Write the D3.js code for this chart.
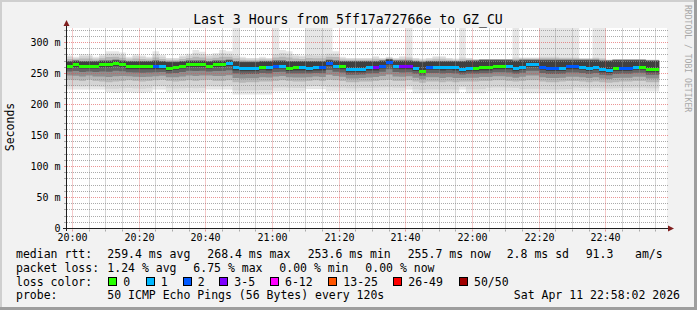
<!DOCTYPE html>
<html>
<head>
<meta charset="utf-8">
<script src="https://cdn.jsdelivr.net/npm/d3@7"></script>
<style>
body { margin: 0; background: #f2f2f2; }
svg { display: block; font-family: "DejaVu Sans Mono", monospace; }
</style>
</head>
<body>
<svg id="chart" width="697" height="310"></svg>
<script>
// first 2 minute slot and graph window
const FIRST_SLOT = new Date(2026, 3, 11, 19, 58, 0);
const STEP_SEC = 120;
const VIEW_START = new Date(2026, 3, 11, 19, 58, 12);
const VIEW_END = new Date(2026, 3, 11, 22, 58, 12);

// median rtt per slot (ms)
const median = [
  262, 264, 262, 262, 262, 264, 264, 266, 264, 261,
  261, 261, 261, 261, 261, 258, 260, 262, 264.5, 264.5,
  264.5, 262, 264.5, 264.5, 266, 259, 257.7, 257.7, 257.7, 260,
  259, 262, 262, 258, 259, 259, 257.7, 259, 259, 266,
  262, 261, 256, 256, 256, 259, 259, 262, 268, 262,
  261, 261, 258, 254, 260, 260, 259, 260, 259, 256,
  257.7, 257.7, 259, 259, 261, 261, 261, 257.7, 260, 264.6,
  264.6, 260, 258, 258, 258, 261, 261, 260, 258, 260,
  256, 255, 258, 258, 258, 260, 260, 256, 256
];

// lost pings (of 50) per slot
const lost = [
  0, 0, 0, 0, 0, 0, 0, 0, 0, 0,
  0, 0, 0, 2, 1, 0, 0, 0, 0, 0,
  0, 0, 0, 0, 1, 1, 1, 1, 1, 0,
  1, 2, 1, 0, 0, 1, 1, 1, 2, 2,
  1, 0, 1, 1, 1, 1, 3, 2, 2, 1,
  3, 3, 1, 0, 2, 1, 1, 1, 1, 1,
  1, 0, 0, 0, 0, 0, 1, 1, 1, 1,
  1, 2, 2, 2, 1, 2, 2, 1, 1, 1,
  1, 1, 0, 2, 2, 1, 0, 0, 0
];

// smoke: highest ping
const pMax = [
  279, 277, 281, 281, 277, 281, 286, 286, 284, 277,
  281, 279, 277, 286, 280, 275, 275, 279, 282, 288,
  285, 281, 283, 288, 286, 340, 277, 275, 275, 277,
  275, 340, 288, 286, 281, 279, 340, 340, 340, 340,
  286, 277, 275, 275, 275, 275, 278, 275, 277, 275,
  278, 340, 275, 274, 275, 278, 278, 275, 274, 340,
  275, 273, 273, 273, 273, 273, 273, 340, 276, 276,
  276, 340, 340, 340, 340, 340, 340, 275, 275, 340,
  340, 272, 272, 272, 272, 272, 272, 272, 272
];

// smoke: upper light edge
const pTop = [
  277, 275, 278, 278, 275, 278, 282, 282, 280, 275,
  278, 277, 275, 281, 277, 274, 274, 277, 279, 283,
  281, 278, 280, 283, 282, 279, 275, 274, 274, 275,
  274, 281, 283, 282, 278, 277, 280, 279, 279, 282,
  282, 275, 274, 274, 274, 274, 276, 274, 276, 274,
  276, 277, 274, 273, 274, 276, 276, 274, 273, 276,
  274, 273, 273, 273, 273, 273, 273, 276, 275, 275,
  275, 277, 277, 277, 276, 276, 276, 274, 274, 276,
  275, 272, 272, 272, 272, 272, 272, 272, 272
];

// smoke: upper dark edge
const pDark = [
  270, 271, 270, 270, 270, 271, 271, 272, 271, 270,
  270, 270, 270, 271, 270, 269, 269, 270, 271, 271,
  271, 270, 271, 271, 272, 270, 269, 269, 269, 270,
  270, 271, 271, 270, 270, 270, 270, 270, 270, 272,
  271, 270, 270, 270, 270, 270, 270, 271, 273, 271,
  271, 271, 270, 269, 270, 270, 270, 270, 270, 270,
  271, 271, 272, 272, 272, 272, 272, 271, 272, 272,
  272, 272, 272, 272, 272, 272, 272, 272, 272, 272,
  271, 271, 272, 272, 272, 272, 272, 271, 271
];

// smoke: lower mid edge
const pLo = [
  240, 239, 238, 240, 238, 237, 236, 237, 238, 239,
  238, 237, 238, 239, 240, 238, 237, 238, 239, 238,
  239, 240, 238, 238, 239, 236, 235, 236, 236, 237,
  237, 238, 239, 238, 237, 237, 238, 239, 238, 240,
  239, 238, 236, 236, 237, 237, 238, 239, 240, 238,
  238, 239, 237, 235, 237, 237, 236, 237, 236, 237,
  237, 237, 238, 238, 239, 239, 238, 237, 238, 239,
  239, 237, 236, 236, 237, 238, 238, 237, 236, 237,
  236, 235, 236, 237, 237, 238, 238, 236, 236
];

// smoke: lowest ping
const pMin = [
  224, 224, 224, 224, 224, 224, 220, 219, 220, 220,
  219, 219, 220, 224, 224, 220, 220, 220, 220, 220,
  220, 224, 224, 224, 224, 216, 216, 216, 216, 216,
  216, 221, 221, 221, 221, 221, 225, 225, 225, 221,
  221, 221, 221, 221, 221, 221, 221, 221, 221, 221,
  221, 224, 218, 218, 218, 218, 218, 218, 218, 224,
  218, 218, 218, 221, 221, 221, 221, 221, 218, 218,
  218, 218, 218, 218, 218, 218, 221, 221, 221, 221,
  221, 221, 221, 221, 221, 221, 221, 221, 221
];

const lossLabels = ["0", "1", "2", "3-5", "6-12", "13-25", "26-49", "50/50"];
const lossColors = ["#26ff00", "#00b8ff", "#0059ff", "#7e00ff", "#ff00ff", "#ff5500", "#ff0000", "#a10000"];
const rttStats = ["259.4 ms avg", "268.4 ms max", "253.6 ms min", "255.7 ms now", "2.8 ms sd", "91.3", "am/s"];
const lossStats = ["1.24 % avg", "6.75 % max", "0.00 % min", "0.00 % now"];
const titleText = "Last 3 Hours from 5ff17a72766e to GZ_CU";
const probeText = "50 ICMP Echo Pings (56 Bytes) every 120s";
const stampText = "Sat Apr 11 22:58:02 2026";

const svg = d3.select("#chart");
const W = 697, H = 310;
const plot = { left: 66.5, right: 666.5, top: 28.5, bottom: 228.5 };

const x = d3.scaleTime().domain([VIEW_START, VIEW_END]).range([plot.left, plot.right]);
const y = d3.scaleLinear().domain([0, 322.58]).range([plot.bottom, plot.top]);
const px = v => Math.floor(v) + 0.5;

function lossIndex(n) {
    if (n <= 2) return n;
    if (n <= 5) return 3;
    if (n <= 12) return 4;
    if (n <= 25) return 5;
    if (n < 50) return 6;
    return 7;
}

const samples = median.map((m, i) => ({
    t0: d3.timeSecond.offset(FIRST_SLOT, i * STEP_SEC),
    t1: d3.timeSecond.offset(FIRST_SLOT, (i + 1) * STEP_SEC),
    med: m, lost: lost[i],
    min: pMin[i], lo: pLo[i], dark: pDark[i], top: pTop[i], max: pMax[i]
}));

// background + 3d frame
svg.append("rect").attr("width", W).attr("height", H).attr("fill", "#f2f2f2");
svg.append("path").attr("d", `M0,${H} V0 H${W} v2 H2 V${H} Z`).attr("fill", "#cfcfcf");
svg.append("path").attr("d", `M${W},0 V${H} H0 v-3 H${W - 3} V0 Z`).attr("fill", "#9e9e9e");

svg.append("rect")
    .attr("x", 67).attr("y", plot.top - 0.5)
    .attr("width", 600).attr("height", plot.bottom - plot.top)
    .attr("fill", "#ffffff");

svg.append("clipPath").attr("id", "plotClip")
    .append("rect").attr("x", 67).attr("y", plot.top - 0.5)
    .attr("width", 600).attr("height", plot.bottom - plot.top);

// smoke, lightest first
const last = samples[samples.length - 1];
const pts = samples.concat([Object.assign({}, last, { t0: last.t1 })]);
const bands = [
    { fill: "#e6e6e6", lo: d => d.min, hi: d => d.max },
    { fill: "#d4d4d4", lo: d => d.min + (d.lo - d.min) * 0.35, hi: d => d.top },
    { fill: "#b6b6b6", lo: d => d.lo, hi: d => (d.top + d.dark) / 2 },
    { fill: "#8e8e8e", lo: d => d.lo + (d.med - d.lo) * 0.3, hi: d => d.dark },
    { fill: "#646464", lo: d => d.lo + (d.med - d.lo) * 0.6, hi: d => d.dark },
    { fill: "#404040", lo: d => d.med - 4, hi: d => d.dark - 1 }
];
const smoke = svg.append("g").attr("clip-path", "url(#plotClip)");
bands.forEach(b => {
    const area = d3.area()
        .curve(d3.curveStepAfter)
        .x(d => x(d.t0))
        .y0(d => y(b.lo(d)))
        .y1(d => y(b.hi(d)));
    smoke.append("path").datum(pts).attr("d", area).attr("fill", b.fill);
});

// grid
const GRID = "rgba(143,143,143,0.75)";
const MGRID = "rgba(222,79,79,0.6)";
const grid = svg.append("g").attr("stroke-width", 1).attr("fill", "none");

d3.range(10, 330, 10).filter(v => y(v) >= plot.top).forEach(v => {
    const major = v % 50 === 0;
    const yy = px(y(v));
    grid.append("line")
        .attr("x1", 67).attr("x2", 668).attr("y1", yy).attr("y2", yy)
        .attr("stroke", major ? MGRID : GRID).attr("stroke-dasharray", "1 1");
    grid.append("line")
        .attr("x1", 64).attr("x2", 66).attr("y1", yy).attr("y2", yy)
        .attr("stroke", major ? MGRID : GRID);
});

d3.timeMinute.every(5).range(VIEW_START, VIEW_END).forEach(t => {
    const major = t.getMinutes() % 20 === 0;
    const xx = px(x(t));
    grid.append("line")
        .attr("x1", xx).attr("x2", xx).attr("y1", plot.top).attr("y2", plot.bottom)
        .attr("stroke", major ? MGRID : GRID).attr("stroke-dasharray", "1 1");
    grid.append("line")
        .attr("x1", xx).attr("x2", xx).attr("y1", plot.bottom + 1).attr("y2", plot.bottom + 3)
        .attr("stroke", major ? MGRID : GRID);
});

// median line coloured by loss
svg.append("g").attr("clip-path", "url(#plotClip)")
    .selectAll("rect.med")
    .data(samples)
    .join("rect")
    .attr("class", "med")
    .attr("x", d => x(d.t0))
    .attr("width", d => x(d.t1) - x(d.t0))
    .attr("y", d => y(d.med) - 1.5)
    .attr("height", 3)
    .attr("fill", d => lossColors[lossIndex(d.lost)])
    .attr("shape-rendering", "crispEdges");

// axes and arrows
const AXIS = "#1f1f1f", ARROW = "#801f1f";
svg.append("line").attr("x1", 63).attr("x2", 669).attr("y1", plot.bottom).attr("y2", plot.bottom)
    .attr("stroke", AXIS);
svg.append("line").attr("x1", plot.left).attr("x2", plot.left).attr("y1", 231).attr("y2", 24)
    .attr("stroke", AXIS);
svg.append("path").attr("d", "M668,225.5 L674,228.5 L668,231.5 Z").attr("fill", ARROW);
svg.append("path").attr("d", "M63.5,26 L66.5,20 L69.5,26 Z").attr("fill", ARROW);

// tick labels
svg.append("g").selectAll("text")
    .data(d3.range(0, 301, 50))
    .join("text")
    .attr("x", 60.5)
    .attr("y", v => px(y(v)) + 3.5)
    .attr("text-anchor", "end")
    .attr("font-size", "10px")
    .attr("fill", "#000")
    .text(v => v === 0 ? "0" : v + " m");

svg.append("g").selectAll("text")
    .data(d3.timeMinute.every(20).range(VIEW_START, VIEW_END))
    .join("text")
    .attr("x", t => px(x(t)))
    .attr("y", 241)
    .attr("text-anchor", "middle")
    .attr("font-size", "10px")
    .attr("fill", "#000")
    .text(d3.timeFormat("%H:%M"));

// title, unit, watermark
svg.append("text").attr("x", 348).attr("y", 23.5).attr("text-anchor", "middle")
    .attr("font-size", "13.2px").attr("fill", "#000").text(titleText);
svg.append("text").attr("transform", "translate(13.5,127) rotate(-90)")
    .attr("text-anchor", "middle").attr("font-size", "11.5px").attr("fill", "#000")
    .text("Seconds");
svg.append("text").attr("transform", "translate(685,5) rotate(90)")
    .attr("font-size", "8.1px").attr("fill", "#a8a8a8")
    .text("RRDTOOL / TOBI OETIKER");

// legend
const lg = svg.append("g").attr("font-size", "11.5px").attr("fill", "#000");
function put(xp, yp, s, anchor) {
    lg.append("text").attr("x", xp).attr("y", yp).attr("text-anchor", anchor || "start").text(s);
}
put(16, 257.5, "median rtt:");
[107.3, 207.3, 307.7, 407.7, 506.7, 585.7, 635].forEach((xp, i) => put(xp, 257.5, rttStats[i]));
put(16, 271.5, "packet loss:");
[107.3, 193.3, 279.3, 365.3].forEach((xp, i) => put(xp, 271.5, lossStats[i]));
put(16, 285.5, "loss color:");
[108.3, 145.7, 182.7, 219.3, 270, 328.3, 393.3, 459].forEach((xp, i) => {
    lg.append("rect")
        .attr("x", Math.round(xp) + 0.5).attr("y", 277.5)
        .attr("width", 8).attr("height", 8)
        .attr("fill", lossColors[i]).attr("stroke", "#000");
    put(xp + 15, 285.5, lossLabels[i]);
});
put(16, 299, "probe:");
put(107.3, 299, probeText);
put(680, 299, stampText, "end");
</script>
</body>
</html>
